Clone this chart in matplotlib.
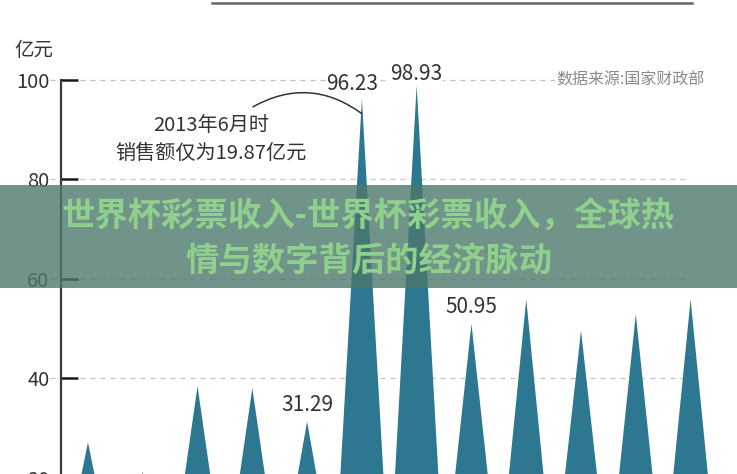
import matplotlib.pyplot as plt
from matplotlib.lines import Line2D
from matplotlib.patches import Rectangle

plt.rcParams['font.family'] = ['Noto Sans CJK SC', 'DejaVu Sans']

# monthly lottery sales, 亿元
values = [27.1, 21.1, 38.4, 38.0, 31.29, 96.23, 98.93, 50.95, 55.9, 49.6, 52.9, 55.9]
labelled = [4, 5, 6, 7]
label_dx = [0, -7, 0, 0]          # small horizontal nudges, points
label_dy = [4, 3, 0, 4]
yticks = [20, 40, 60, 80, 100]
unit = '亿元'
note = ['2013年6月时', '销售额仅为19.87亿元']
source = '数据来源:国家财政部'
banner = ['世界杯彩票收入-世界杯彩票收入，全球热', '情与数字背后的经济脉动']

teal = '#2d7890'
ink = '#333333'

fig = plt.figure(figsize=(7.37, 4.74), dpi=100)
# y axis runs below the bottom of the image (0 sits off-canvas)
ax = fig.add_axes([0.0822, -0.2173, 0.892, 1.0485])
ax.set_xlim(-0.5, len(values) - 0.5)
ax.set_ylim(0, 100)

for s in ['top', 'right', 'bottom']:
    ax.spines[s].set_visible(False)
ax.spines['left'].set_color('#3a3a3a')
ax.spines['left'].set_linewidth(1.6)

ax.hlines(yticks, -0.69, 10.9, colors='#c4c4c4', linewidth=0.9,
          linestyles=(0, (4, 4)), clip_on=False, zorder=0)

for i, v in enumerate(values):
    ax.fill([i - 0.5, i, i + 0.5], [0, v, 0], color=teal, lw=0, zorder=2,
            clip_on=False)

for k, i in enumerate(labelled):
    ax.annotate('%.2f' % values[i], xy=(i, values[i]),
                xytext=(label_dx[k], label_dy[k]), textcoords='offset points',
                ha='center', va='bottom', fontsize=15, color=ink,
                fontweight='light', zorder=4,
                bbox=dict(facecolor='white', edgecolor='none', pad=0.5))

ax.set_xticks([])
ax.set_yticks(yticks)
ax.tick_params(axis='y', direction='in', length=12, width=1.8, color='#1a1a1a',
               pad=8, labelsize=14.5, labelcolor=ink)
for t in ax.get_yticklabels():
    t.set_fontweight('light')

fig.text(34 / 737, 1 - 50 / 474, unit, ha='center', va='center',
         fontsize=14, color=ink)

# annotation arc to the 96.23 peak
ax.annotate('', xy=(5, values[5] - 3), xytext=(3.01, 94.6),
            arrowprops=dict(arrowstyle='-', color='#333333', lw=1.1,
                            connectionstyle='arc3,rad=-0.32',
                            shrinkA=0, shrinkB=0), zorder=3)
ax.text(2.25, 90.9, note[0], ha='center', va='center', fontsize=14.5,
        color=ink, fontweight='light')
ax.text(2.25, 85.3, note[1], ha='center', va='center', fontsize=14.5,
        color=ink, fontweight='light')

fig.text(705 / 737, 1 - 80 / 474, source, ha='right', va='center',
         fontsize=11.5, color='#8a8a8a', zorder=5,
         bbox=dict(facecolor='white', edgecolor='none', pad=1))

fig.add_artist(Line2D([212 / 737, 692 / 737], [1 - 3 / 474, 1 - 3 / 474],
                      color='#666666', lw=1.8))

# translucent banner with headline
fig.add_artist(Rectangle((0, 1 - 288 / 474), 1, 103 / 474,
                         transform=fig.transFigure, facecolor='#4c796d',
                         alpha=0.8, edgecolor='none', zorder=10))
fig.text(0.5, 1 - 217 / 474, banner[0], ha='center', va='center',
         fontsize=24, fontweight='bold', color='#8fd08c', zorder=11)
fig.text(0.5, 1 - 262 / 474, banner[1], ha='center', va='center',
         fontsize=24, fontweight='bold', color='#8fd08c', zorder=11)

fig.savefig('out.png', dpi=100)
